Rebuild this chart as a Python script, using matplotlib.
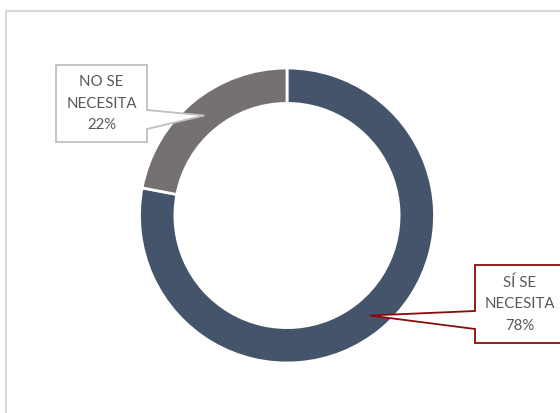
import numpy as np
import matplotlib
matplotlib.use("Agg")
import matplotlib.pyplot as plt
from matplotlib.patches import Polygon, Rectangle

# datos
labels = ["SÍ SE\nNECESITA", "NO SE\nNECESITA"]
values = [78, 22]
colors = ["#44546A", "#767171"]
box_edges = ["#8B0A0A", "#BFBFBF"]

W, H = 560, 413
cx, cy, R = 287, 215.5, 147.5

fig = plt.figure(figsize=(W / 100, H / 100), dpi=100)
ax = fig.add_axes([0, 0, 1, 1])

wedges, _ = ax.pie(values, colors=colors, startangle=90, counterclock=False, radius=1,
                   wedgeprops=dict(width=0.24, edgecolor="white", linewidth=2))

# pie cambia los limites, se fijan despues
ax.set_xlim(-cx / R, (W - cx) / R)
ax.set_ylim(-(H - cy) / R, cy / R)
ax.set_aspect("equal")
ax.axis("off")

# marco del grafico
fig.patches.append(Rectangle((6 / W, -0.1), 1.2, 1 - 11 / H + 0.1, transform=fig.transFigure,
                             fill=False, ec="#D9D9D9", lw=1.5))


def px(x, y):
    # pixeles -> datos
    return ((x - cx) / R, (cy - y) / R)


# cajas de texto (en pixeles): x0, y0, x1, y1, lado del puntero
boxes = [(475, 265, 566, 343, "left"), (56, 65, 147, 142, "right")]

for w, lab, v, ec, b in zip(wedges, labels, values, box_edges, boxes):
    ang = np.deg2rad((w.theta1 + w.theta2) / 2)
    r = 1 - 0.12
    tip = (r * np.cos(ang), r * np.sin(ang))
    x0, y0, x1, y1, side = b
    if side == "left":
        pts = [px(x0, y0), px(x1, y0), px(x1, y1), px(x0, y1), px(x0, 329), tip, px(x0, 311)]
    else:
        pts = [px(x0, y0), px(x1, y0), px(x1, 110), tip, px(x1, 129), px(x1, y1), px(x0, y1)]
    ax.add_patch(Polygon(pts, closed=True, fc="white", ec=ec, lw=1.3, zorder=5))
    tx, ty = px((x0 + min(x1, 565)) / 2, (y0 + y1) / 2)
    ax.text(tx, ty, f"{lab}\n{v}%", ha="center", va="center", fontsize=10.8,
            family="Lato", color="#595959", linespacing=1.7, zorder=6)

fig.savefig("out.png", dpi=100)
